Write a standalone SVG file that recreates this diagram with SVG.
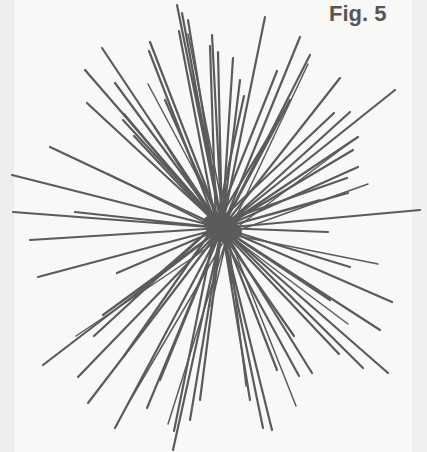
<svg xmlns="http://www.w3.org/2000/svg" width="427" height="452" viewBox="0 0 427 452">
<style>
.r{stroke:#5c5a5c;stroke-width:2.2;stroke-linecap:round;fill:none}
.t{stroke:#5c5a5c;stroke-width:1.5;stroke-linecap:round;fill:none}
.lbl{font-family:"Liberation Sans",Arial,sans-serif;font-weight:bold;font-size:22px;fill:#555555}
</style>
<rect width="427" height="452" fill="#f8f8f6"/>
<rect x="0" y="0" width="14" height="452" fill="#eeeeec"/>
<rect x="412" y="0" width="15" height="452" fill="#f0f0ee"/>
<text class="lbl" x="329" y="21">Fig. 5</text>
<g id="burst">
<g transform="translate(222,228)" class="r">
<path d="M0 0L-45 -223M0 0L-40 -215M0 0L-34 -208M0 0L-10 -193M0 0L-4 -176M0 0L11 -170M0 0L18 -148M0 0L-72 -186M0 0L-120 -180M0 0L-137 -158M0 0L-107 -145M0 0L-135 -125M0 0L-99 -108M0 0L-172 -81M0 0L-210 -53M0 0L-209 -16M0 0L-147 -16M0 0L-192 12M0 0L-57 -128M0 0L-27 -138"/>
<path d="M0 0L43 -211M0 0L78 -191M0 0L88 -173M0 0L118 -150M0 0L173 -138M0 0L128 -116M0 0L136 -91M0 0L131 -78M0 0L136 -61M0 0L126 -35M0 0L198 -18M0 0L106 4M0 0L68 -128M0 0L98 -28"/>
<path d="M0 0L128 39M0 0L170 74M0 0L158 102M0 0L166 145M0 0L141 140M0 0L90 145M0 0L55 142M0 0L50 202M0 0L41 200M0 0L108 72M0 0L28 172"/>
<path d="M0 0L-49 222M0 0L-75 180M0 0L-107 200M0 0L-134 175M0 0L-144 149M0 0L-179 137M0 0L-119 87M0 0L-105 45M0 0L-184 49M0 0L-62 152M0 0L-22 172M0 0L-32 192"/>
</g>
<g transform="translate(216,224)" class="r">
<path d="M0 0L-37 -193M0 0L-6 -178M0 0L-67 -173M0 0L-92 -110M0 0L-62 -98M0 0L-82 -88M0 0L61 -153M0 0L118 -111M0 0L131 -46M0 0L53 -88M0 0L28 -128M0 0L123 130M0 0L83 152M0 0L78 112M0 0L-42 207M0 0L-122 112M0 0L-92 132M0 0L-82 72"/>
</g>
<g transform="translate(228,234)" class="t">
<path d="M0 0L-40 -200M0 0L-80 -150M0 0L-120 -60M0 0L80 -170M0 0L120 -90M0 0L140 -50M0 0L150 30M0 0L120 90M0 0L68 172M0 0L18 152M0 0L-152 102M0 0L-17 72M0 0L-100 170M0 0L-60 190"/>
</g>
<ellipse cx="222" cy="228" rx="16" ry="14" fill="#5c5a5c"/>
<ellipse cx="212" cy="222" rx="9" ry="7" fill="#5c5a5c"/>
<ellipse cx="232" cy="232" rx="10" ry="8" fill="#5c5a5c"/>
</g>
</svg>
